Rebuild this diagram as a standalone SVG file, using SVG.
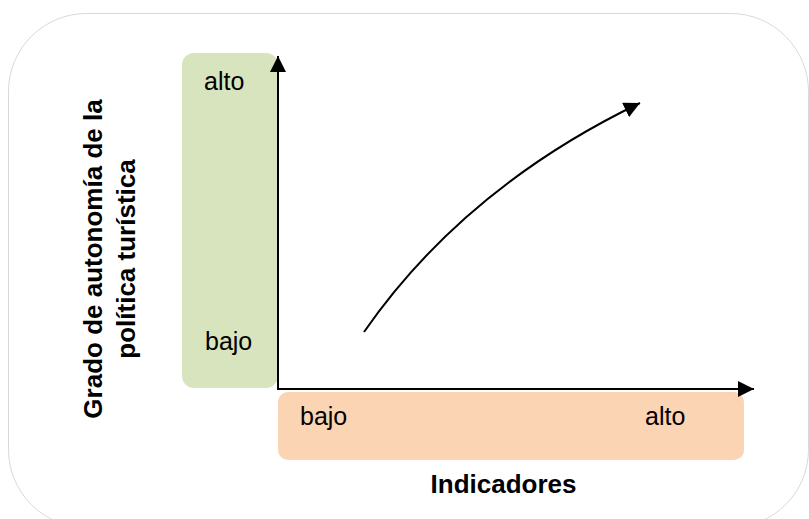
<svg xmlns="http://www.w3.org/2000/svg" width="809" height="519" viewBox="0 0 809 519">
<style>
.lbl{font-family:"Liberation Sans",Arial,sans-serif;font-size:25px;fill:#000}
.ttl{font-family:"Liberation Sans",Arial,sans-serif;font-size:26px;font-weight:bold;fill:#000}
.ax{stroke:#000;stroke-width:2;fill:none}
</style>
<defs>
<marker id="ah" markerWidth="16" markerHeight="16" refX="16" refY="8" orient="auto" markerUnits="userSpaceOnUse">
<path d="M0,0 L16,8 L0,16 Z" fill="#000"/>
</marker>
</defs>
<rect x="8.5" y="13.5" width="800" height="514" rx="78" ry="78" fill="#fff" stroke="#d9d9d9" stroke-width="1"/>
<g id="y-band">
<rect x="182" y="53" width="96" height="335" rx="12" ry="12" fill="#d7e4bd"/>
<text class="lbl" x="204" y="90">alto</text>
<text class="lbl" x="205" y="350">bajo</text>
</g>
<g id="x-band">
<rect x="278" y="392" width="466" height="68" rx="10" ry="10" fill="#fbd4b4"/>
<text class="lbl" x="300" y="425">bajo</text>
<text class="lbl" x="645" y="425">alto</text>
</g>
<g id="y-title">
<text class="ttl" transform="translate(102,259) rotate(-90)" text-anchor="middle">Grado de autonomía de la</text>
<text class="ttl" transform="translate(135,259) rotate(-90)" text-anchor="middle">política turística</text>
</g>
<g id="x-title">
<text class="ttl" x="503.5" y="493" text-anchor="middle">Indicadores</text>
</g>
<g id="connectors">
<path class="ax" d="M278,389 L278,56" marker-end="url(#ah)"/>
<path class="ax" d="M277,389 L754,389" marker-end="url(#ah)"/>
<path class="ax" d="M364,332 Q464,188 640,103" marker-end="url(#ah)"/>
</g>
</svg>
